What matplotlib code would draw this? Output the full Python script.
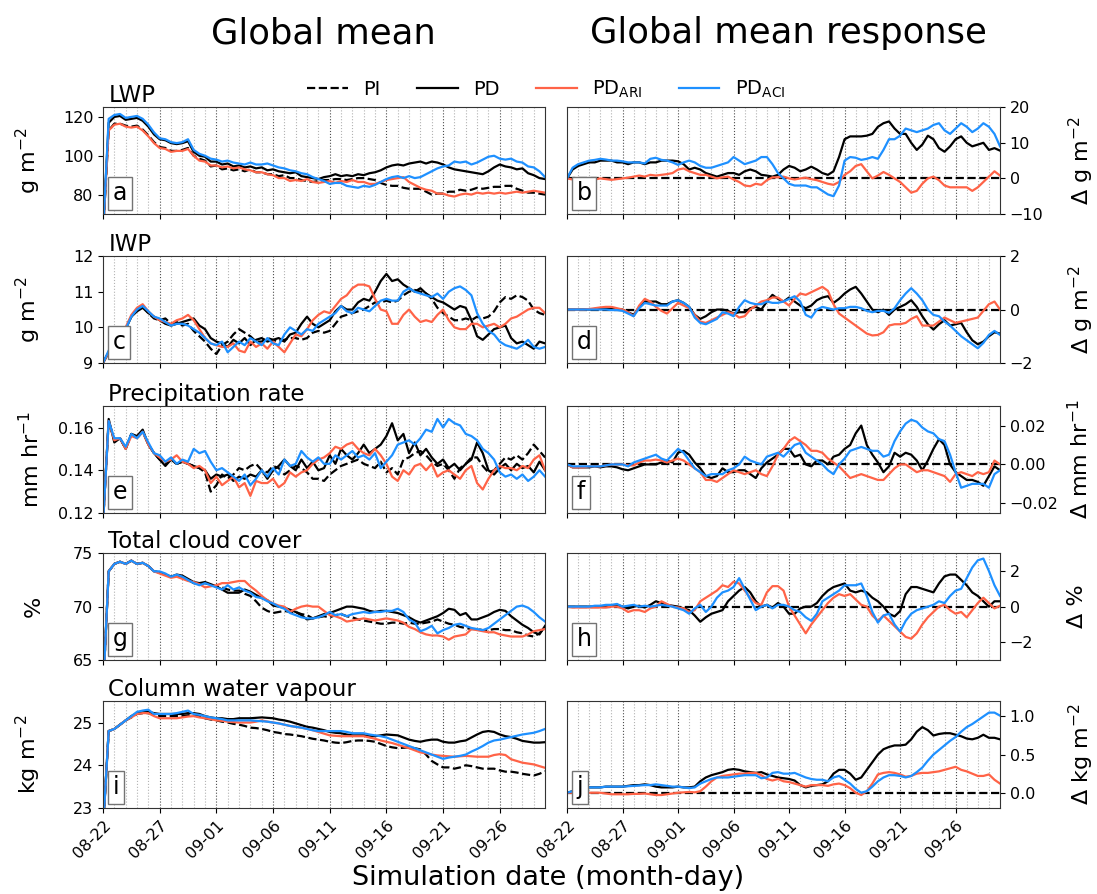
import numpy as np
import matplotlib
matplotlib.use('Agg')
import matplotlib.pyplot as plt
from matplotlib.lines import Line2D

# eje temporal: pasos de medio día desde 08-22 00:00
dias = np.linspace(0, 39, 79)
tick_dias = [0, 5, 10, 15, 20, 25, 30, 35]
tick_labels = ['08-22', '08-27', '09-01', '09-06', '09-11', '09-16', '09-21', '09-26']

# ---------------- LWP (g m-2) ----------------
lwp_pi = [60, 113, 116.5, 116.5, 115.5, 115, 115.5, 113.5, 110.5, 107,
          104.5, 104, 102.5, 102.5, 103, 104, 100, 98.5, 97.5, 94.5,
          95, 93, 93.5, 92.5, 93, 92, 93, 91.5, 91.5, 90.5,
          90.5, 89.5, 90, 88.5, 88.5, 87.5, 87, 86.5, 87, 87.5,
          87.5, 88, 88, 87.5, 88, 88.5, 88.5, 88, 87.5, 86,
          85, 84.5, 84.5, 83.5, 83, 83, 83, 81.5, 80, 80.5,
          80.5, 81.5, 81.5, 82.5, 82, 82.5, 83.5, 83, 83.5, 84,
          84, 84.5, 84.5, 83, 82, 81, 81, 80.5, 80]
lwp_pd = [60, 117, 120, 120.5, 118.5, 119, 119.5, 118, 115, 111,
          108.5, 108, 106.5, 106, 106.5, 107.5, 102, 100, 99.5, 97,
          97, 95.5, 96, 94.5, 95, 94, 94.5, 93.5, 94, 92.5,
          93, 92, 91.5, 91, 91.5, 89.5, 89, 88.5, 88, 89,
          89.5, 90.5, 89.5, 90, 89.5, 90.5, 90, 91, 91.5, 92.5,
          94, 95, 95.5, 95, 96, 96.5, 97, 96, 97, 96.5,
          95.5, 94, 93, 92.5, 92, 91.5, 91, 90.5, 92, 94,
          95.5, 94.5, 94, 93, 93.5, 91, 90, 88.5, 88]
lwp_ari = [60, 113, 116, 116.5, 115, 114.5, 115, 113, 110, 106.5,
           104, 103.5, 102, 102.5, 102.5, 103.5, 100, 97.5, 97, 95,
           95, 94, 94.5, 93.5, 94, 93, 92.5, 91.5, 91.5, 90.5,
           90, 88.5, 88.5, 87, 87.5, 87, 88, 86.5, 86, 86.5,
           87, 86, 87, 86.5, 87.5, 86.5, 86.5, 85.5, 85.5, 86.5,
           87.5, 88, 88.5, 89, 86.5, 85, 83.5, 82.5, 82, 80.5,
           80.5, 79.5, 79, 80, 80.5, 80, 81, 80.5, 81, 80.5,
           81, 80.5, 81, 81.5, 81, 81.5, 82, 81.5, 81]
lwp_aci = [60, 119, 121, 121.5, 119.5, 120, 120.5, 119, 116, 112,
           109, 108.5, 107, 106.5, 107, 108.5, 103, 101, 100, 98.5,
           98, 97, 97.5, 96.5, 96, 95.5, 96.5, 95.5, 95.5, 96,
           95, 94, 93.5, 92.5, 92, 91, 90.5, 89, 88, 87,
           85.5, 86, 86, 84.5, 84, 83.5, 84.5, 84, 85, 86.5,
           88, 89, 89.5, 88.5, 89.5, 88.5, 89, 90.5, 92, 93.5,
           94.5, 95, 97, 96.5, 97, 95.5, 96.5, 98, 99.5, 100,
           98.5, 98, 98.5, 97, 96.5, 94.5, 94, 92, 89]
dlwp_pd = [0, 2.5, 3.5, 4, 4.5, 4.5, 5, 5, 5, 4.5,
           4.5, 4, 4.5, 4.5, 4, 4.5, 4.5, 5, 5, 5,
           4.8, 4, 2.5, 3, 2.5, 1.5, 1, 0.5, 1, 1.5,
           1.5, 1, 2, 2.5, 2, 1, 0.8, 0.5, 1, 2.5,
           3.5, 3, 2, 2.5, 3.3, 2.5, 1.5, 1, 2, 6,
           11, 11.8, 11.8, 11.8, 12, 12.5, 14.5, 15.5, 16, 14,
           12.5, 12.5, 10, 8, 9.5, 12, 11, 8.5, 7.5, 9,
           11, 11.8, 10, 9, 9.5, 10, 8, 8.5, 7.8]
dlwp_ari = [0, -0.3, -0.5, -0.3, -0.2, -0.3, 0, -0.2, -0.4, -0.2,
            0, 0.2, 0.5, 0.8, 0.5, 1, 0.8, 1, 1.2, 1.5,
            2.5, 2.8, 2, 1.5, 1, 1, 0.5, 0, 0.3, 0.5,
            -0.3, -1, -2, -2.2, -1.5, -1.8, -0.5, 0.3, 0.3, 0.5,
            0, -0.3, 0, 0.2, -0.2, -0.5, -1, -1.5, -1.8, -1,
            1, 2, 3.5, 4, 2, 0, 0.8, 1.8, 1, 0,
            -1, -2.5, -4, -3.5, -1.5, 0, 0.5, -0.5, -2, -2.5,
            -2.5, -2.5, -2.5, -3.5, -2.5, -1, 0.5, 2, 0.8]
dlwp_aci = [0, 3, 4, 4.5, 5, 5.2, 5.5, 5.3, 5, 5,
            4.8, 4.5, 4.5, 4.5, 4.2, 5.5, 5.8, 5.2, 5, 4.5,
            3.8, 4.5, 5, 4.5, 3.5, 3, 3, 3.5, 4, 4.5,
            6, 5, 4, 4.5, 5, 6, 6, 4, 1.5, 0,
            -1.5, -2, -2, -2, -2.5, -2.5, -3.5, -4.5, -5, -2,
            5, 6, 5.8, 5.2, 5.5, 6, 5.5, 8, 11, 11,
            12, 14, 13.5, 13, 13.5, 14, 15, 15.5, 13.5, 12.5,
            14, 15.5, 14.5, 13, 14, 15.5, 14.5, 12.5, 9]

# ---------------- IWP (g m-2) ----------------
iwp_pi = [9.0, 9.3, 9.55, 9.75, 10.0, 10.3, 10.5, 10.6, 10.4, 10.25,
          10.2, 10.25, 10.1, 10.15, 10.05, 10.1, 9.9, 9.75, 9.6, 9.4,
          9.25, 9.5, 9.6, 9.8, 9.95, 9.85, 9.75, 9.6, 9.6, 9.7,
          9.65, 9.6, 9.65, 9.7, 9.7, 9.65, 9.7, 9.85, 9.9, 9.85,
          9.9, 10.1, 10.3, 10.35, 10.4, 10.45, 10.5, 10.6, 10.7, 10.7,
          10.75, 10.7, 10.75, 10.9, 11.0, 11.05, 11.0, 10.95, 10.8, 10.55,
          10.4, 10.3, 10.2, 10.2, 10.25, 10.2, 10.3, 10.25, 10.3, 10.45,
          10.7, 10.85, 10.8, 10.9, 10.85, 10.75, 10.5, 10.4, 10.35]
iwp_pd = [9.0, 9.3, 9.5, 9.7, 9.95, 10.3, 10.45, 10.55, 10.4, 10.3,
          10.2, 10.1, 10.05, 10.1, 10.15, 10.2, 10.25, 10.05, 9.95, 9.7,
          9.6, 9.55, 9.45, 9.65, 9.55, 9.7, 9.5, 9.65, 9.7, 9.6,
          9.65, 9.7, 9.6, 9.8, 9.85, 10.1, 10.3, 10.1, 10.0, 10.1,
          10.2, 10.45, 10.6, 10.5, 10.5, 10.7, 10.8, 10.75, 11.0, 11.3,
          11.5, 11.3, 11.35, 11.2, 11.1, 11.0, 11.1, 10.95, 10.85, 10.75,
          10.7, 10.6, 10.5, 10.6, 10.55, 10.2, 9.75, 9.65, 9.8, 9.95,
          10.0, 10.05, 9.7, 9.55, 9.6, 9.5, 9.4, 9.6, 9.55]
iwp_ari = [9.0, 9.3, 9.55, 9.75, 10.0, 10.35, 10.55, 10.65, 10.45, 10.3,
           10.2, 10.15, 10.1, 10.2, 10.25, 10.35, 10.2, 9.95, 9.7, 9.55,
           9.5, 9.45, 9.45, 9.55, 9.35, 9.3, 9.6, 9.45, 9.55, 9.4,
           9.6, 9.45, 9.3, 9.55, 9.8, 9.75, 9.95, 10.2, 10.35, 10.45,
           10.4, 10.6, 10.8, 10.9, 11.1, 11.2, 11.2, 11.15, 10.8, 10.5,
           10.45, 10.1, 10.1, 10.35, 10.5, 10.3, 10.15, 10.2, 10.15, 10.35,
           10.5, 10.2, 10.0, 9.95, 9.95, 10.1, 10.1, 10.0, 10.05, 10.1,
           10.0, 10.1, 10.25, 10.3, 10.4, 10.5, 10.55, 10.55, 10.4]
iwp_aci = [9.0, 9.35, 9.55, 9.7, 9.95, 10.3, 10.5, 10.6, 10.45, 10.3,
           10.25, 10.15, 10.05, 10.1, 10.1, 10.05, 9.95, 9.85, 9.7, 9.55,
           9.5, 9.6, 9.3, 9.45, 9.6, 9.5, 9.7, 9.6, 9.5, 9.7,
           9.55, 9.5, 9.8, 10.0, 9.9, 9.8, 9.95, 9.9, 10.1, 10.2,
           10.3, 10.4, 10.6, 10.45, 10.4, 10.55, 10.5, 10.45, 10.6, 10.75,
           10.8, 10.75, 10.75, 11.0, 11.1, 11.0, 10.95, 10.9, 10.85, 10.95,
           10.8, 11.0, 11.1, 11.15, 11.05, 10.9, 10.4, 10.1, 9.9, 9.8,
           9.6, 9.5, 9.45, 9.4, 9.5, 9.65, 9.45, 9.4, 9.45]
diwp_pd = [0, 0, 0, 0, 0, 0.02, 0.02, 0.02, 0.02, 0,
           0, -0.1, -0.2, 0.1, 0.3, 0.3, 0.3, 0.2, 0.2, 0.3,
           0.35, 0.25, 0.1, -0.2, -0.35, -0.25, -0.1, 0, 0, -0.05,
           -0.15, -0.1, -0.1, 0.05, 0.1, 0, 0.3, 0.55, 0.4, 0.3,
           0.45, 0.3, 0.15, 0.05, 0.15, 0.35, 0.45, 0.5, 0.25, 0.4,
           0.6, 0.75, 0.85, 0.6, 0.3, 0, -0.1, 0, -0.2, 0,
           0.1, 0.2, 0.35, 0.1, -0.25, -0.55, -0.75, -0.55, -0.4, -0.6,
           -0.55, -0.5, -0.85, -1.15, -1.3, -1.2, -1.0, -0.85, -0.9]
diwp_ari = [0, 0, 0, 0, 0.02, 0.05, 0.08, 0.1, 0.1, 0.05,
            0, -0.1, -0.25, 0.15, 0.4, 0.3, 0.1, -0.05, -0.15, 0.05,
            0.25, 0.15, 0.05, -0.2, -0.45, -0.5, -0.4, -0.3, -0.2, -0.1,
            -0.15, -0.3, -0.25, 0, 0.15, 0.3, 0.35, 0.45, 0.45, 0.3,
            0.15, 0.4, 0.6, 0.55, 0.65, 0.75, 0.85, 0.7, 0.2, -0.15,
            -0.3, -0.45, -0.6, -0.75, -0.9, -0.97, -0.95, -0.85, -0.6, -0.55,
            -0.55, -0.5, -0.35, -0.25, -0.6, -0.6, -0.6, -0.45, -0.3, -0.4,
            -0.5, -0.45, -0.4, -0.35, -0.3, -0.05, 0.2, 0.3, 0.0]
diwp_aci = [0, 0, 0, 0, 0, 0, 0, 0, -0.02, -0.02,
            -0.05, -0.15, -0.25, 0.05, 0.25, 0.2, 0.15, 0.15, 0.15, 0.3,
            0.35, 0.25, 0.1, -0.3, -0.5, -0.55, -0.45, -0.35, -0.1, -0.15,
            -0.25, 0.1, 0.35, 0.25, 0.2, 0.2, 0.3, 0.25, 0.25, 0.3,
            0.4, 0.5, 0.3, -0.2, -0.3, 0, 0.1, 0.05, 0, 0.05,
            0.05, 0.1, 0.1, 0.05, -0.05, -0.1, -0.05, -0.05, -0.12, 0.05,
            0.35, 0.6, 0.8, 0.6, 0.35, 0, -0.2, -0.25, -0.45, -0.6,
            -0.8, -1.0, -1.15, -1.3, -1.45, -1.25, -0.95, -0.8, -0.95]

# ---------------- Precipitación (mm hr-1) ----------------
pr_pi = [0.115, 0.163, 0.154, 0.155, 0.150, 0.157, 0.155, 0.158, 0.152, 0.148,
         0.145, 0.143, 0.145, 0.143, 0.144, 0.143, 0.142, 0.141, 0.139, 0.130,
         0.133, 0.138, 0.136, 0.138, 0.141, 0.140, 0.142, 0.143, 0.140, 0.139,
         0.142, 0.141, 0.138, 0.140, 0.142, 0.141, 0.139, 0.136, 0.136, 0.135,
         0.138, 0.140, 0.142, 0.143, 0.144, 0.145, 0.143, 0.142, 0.141, 0.144,
         0.139, 0.141, 0.138, 0.145, 0.146, 0.148, 0.149, 0.147, 0.144, 0.142,
         0.143, 0.140, 0.136, 0.141, 0.143, 0.146, 0.146, 0.142, 0.139, 0.140,
         0.143, 0.146, 0.145, 0.147, 0.145, 0.148, 0.152, 0.149, 0.146]
pr_pd = [0.115, 0.164, 0.153, 0.155, 0.150, 0.157, 0.156, 0.159, 0.152, 0.148,
         0.145, 0.142, 0.145, 0.143, 0.144, 0.143, 0.142, 0.141, 0.140, 0.136,
         0.138, 0.137, 0.138, 0.135, 0.137, 0.136, 0.138, 0.137, 0.140, 0.136,
         0.140, 0.142, 0.145, 0.142, 0.140, 0.145, 0.141, 0.144, 0.140, 0.141,
         0.147, 0.143, 0.150, 0.147, 0.145, 0.148, 0.152, 0.148, 0.150, 0.152,
         0.156, 0.162, 0.154, 0.157, 0.148, 0.153, 0.147, 0.150, 0.146, 0.143,
         0.145, 0.141, 0.143, 0.140, 0.143, 0.145, 0.153, 0.148, 0.140, 0.138,
         0.141, 0.143, 0.140, 0.143, 0.141, 0.142, 0.139, 0.144, 0.140]
pr_ari = [0.115, 0.163, 0.154, 0.155, 0.150, 0.156, 0.155, 0.158, 0.152, 0.148,
          0.146, 0.144, 0.145, 0.147, 0.144, 0.143, 0.141, 0.142, 0.140, 0.134,
          0.137, 0.133, 0.135, 0.137, 0.132, 0.134, 0.128, 0.135, 0.134, 0.134,
          0.136, 0.132, 0.134, 0.139, 0.137, 0.139, 0.140, 0.143, 0.145, 0.146,
          0.148, 0.151, 0.150, 0.152, 0.153, 0.150, 0.148, 0.147, 0.150, 0.147,
          0.143, 0.137, 0.135, 0.140, 0.138, 0.142, 0.143, 0.140, 0.143, 0.137,
          0.139, 0.140, 0.138, 0.136, 0.140, 0.142, 0.134, 0.131, 0.136, 0.140,
          0.142, 0.141, 0.141, 0.140, 0.142, 0.141, 0.145, 0.147, 0.140]
pr_aci = [0.115, 0.163, 0.155, 0.155, 0.151, 0.157, 0.155, 0.158, 0.153, 0.148,
          0.147, 0.144, 0.146, 0.143, 0.145, 0.144, 0.150, 0.148, 0.149, 0.144,
          0.140, 0.141, 0.139, 0.137, 0.135, 0.138, 0.133, 0.136, 0.140, 0.137,
          0.141, 0.138, 0.145, 0.142, 0.143, 0.149, 0.146, 0.144, 0.146, 0.143,
          0.143, 0.147, 0.145, 0.147, 0.149, 0.146, 0.147, 0.145, 0.148, 0.141,
          0.144, 0.147, 0.152, 0.153, 0.154, 0.152, 0.155, 0.159, 0.158, 0.164,
          0.160, 0.164, 0.162, 0.161, 0.157, 0.156, 0.154, 0.150, 0.148, 0.145,
          0.139, 0.137, 0.138, 0.136, 0.138, 0.135, 0.137, 0.140, 0.137]
dpr_pd = [0, -0.0015, -0.0015, -0.0015, -0.0015, -0.001, -0.0015, -0.001, -0.001, -0.0015,
          -0.0025, -0.003, -0.002, -0.001, 0, 0, 0, 0.001, 0.002, 0.001,
          0.006, 0.007, 0.005, 0.001, -0.002, -0.006, -0.007, -0.006, -0.002, -0.004,
          -0.004, -0.003, -0.003, -0.005, -0.007, -0.002, 0.001, 0.003, 0.005, 0.008,
          0.008, 0.004, 0.005, 0, -0.001, 0.002, 0.002, 0, 0.004, 0.005,
          0.008, 0.010, 0.016, 0.020, 0.010, 0.005, 0.001, -0.004, -0.001, 0.006,
          0.004, 0.006, 0.005, 0.002, -0.003, 0.002, 0.008, 0.013, 0.010, 0.000,
          -0.004, -0.006, -0.008, -0.008, -0.009, -0.011, -0.006, -0.001, -0.003]
dpr_ari = [0, -0.0015, -0.0015, -0.0015, -0.001, -0.001, -0.001, -0.0005, 0, 0,
           0, -0.0005, -0.0005, 0.001, 0.002, 0.002, 0.0025, 0.002, 0.001, 0.002,
           0.003, 0.002, 0, -0.002, -0.004, -0.008, -0.008, -0.009, -0.007, -0.005,
           -0.003, -0.004, -0.005, -0.004, -0.003, -0.005, -0.006, -0.001, 0.005, 0.008,
           0.012, 0.014, 0.012, 0.010, 0.007, 0.007, 0.006, 0.003, 0.001, -0.001,
           -0.004, -0.007, -0.006, -0.005, -0.006, -0.007, -0.008, -0.008, -0.005, -0.002,
           0, 0, -0.002, -0.004, -0.003, -0.003, -0.004, -0.005, -0.006, -0.009,
           -0.005, -0.004, -0.005, -0.006, -0.004, -0.005, -0.004, 0.002, 0]
dpr_aci = [0, -0.001, -0.001, -0.001, -0.001, -0.001, -0.001, -0.0005, 0, 0,
           0, -0.001, 0.001, 0.002, 0.003, 0.004, 0.005, 0.003, 0.002, 0.005,
           0.008, 0.006, 0.002, -0.002, -0.004, -0.006, -0.005, -0.005, -0.005, -0.003,
           -0.002, 0, 0.004, 0.002, 0.001, 0, 0.004, 0.005, 0.006, 0.004,
           0.007, 0.010, 0.011, 0.006, 0.004, 0.002, 0, -0.003, -0.005, 0,
           0.003, 0.007, 0.008, 0.009, 0.008, 0.007, 0.007, 0.004, 0.005, 0.012,
           0.017, 0.021, 0.023, 0.022, 0.019, 0.017, 0.016, 0.013, 0.012, 0.005,
           -0.004, -0.012, -0.011, -0.010, -0.010, -0.010, -0.012, -0.005, -0.003]

# ---------------- Nubosidad total (%) ----------------
cc_pi = [62, 73.3, 74.0, 74.2, 74.0, 74.3, 74.0, 74.1, 73.8, 73.3,
         73.2, 73.0, 72.8, 72.9, 72.8, 72.5, 72.2, 72.1, 72.2, 72.0,
         71.9, 71.8, 71.6, 71.5, 71.5, 71.2, 71.0, 70.5, 69.9, 69.6,
         69.4, 69.5, 69.6, 69.5, 69.5, 69.3, 69.2, 68.9, 69.0, 69.1,
         69.0, 69.2, 69.3, 69.1, 69.0, 68.8, 68.7, 68.6, 68.5, 68.4,
         68.4, 68.5, 68.5, 68.4, 68.5, 68.4, 68.4, 68.5, 68.6, 68.8,
         68.6, 68.4, 68.3, 68.1, 68.0, 67.9, 67.9, 67.8, 67.8, 67.9,
         67.9, 67.8, 67.8, 67.6, 67.5, 67.3, 67.2, 67.5, 68.1]
cc_pd = [62, 73.3, 74.0, 74.2, 74.0, 74.3, 74.0, 74.1, 73.8, 73.3,
         73.2, 73.0, 72.8, 73.0, 72.9, 72.6, 72.3, 72.2, 72.3, 72.1,
         71.9, 71.6, 71.3, 71.3, 71.3, 71.6, 71.4, 71.1, 70.8, 70.6,
         70.1, 70.0, 69.9, 69.7, 69.5, 69.2, 68.8, 68.9, 69.1, 69.3,
         69.4, 69.6, 69.8, 70.0, 70.0, 69.9, 69.8, 69.6, 69.5, 69.6,
         69.6, 69.5, 69.4, 69.2, 69.0, 68.7, 68.5, 68.7, 68.9, 69.1,
         69.4, 69.8, 69.7, 69.2, 69.4, 68.8, 68.8, 69.0, 69.2, 69.5,
         69.7, 69.6, 69.1, 68.7, 68.3, 68.0, 67.6, 67.4, 68.2]
cc_ari = [62, 73.3, 74.0, 74.2, 74.0, 74.3, 74.0, 74.1, 73.8, 73.3,
          73.1, 72.9, 72.7, 72.8, 72.6, 72.4, 72.3, 72.1, 71.8, 71.9,
          72.0, 72.2, 72.2, 72.3, 72.4, 72.4, 71.9, 71.5, 71.0, 70.6,
          70.3, 70.1, 70.0, 69.5, 69.8, 70.0, 70.1, 70.0, 70.0, 69.6,
          69.2, 69.1, 68.9, 68.6, 68.7, 68.8, 68.9, 68.8, 68.7, 68.8,
          68.9, 68.8, 68.7, 68.5, 68.1, 67.9, 67.6, 67.4, 67.3, 67.3,
          67.2, 66.9, 67.2, 67.3, 67.4, 67.9, 67.8, 67.7, 67.6, 67.6,
          67.4, 67.3, 67.2, 67.2, 67.2, 67.4, 67.7, 67.8, 67.9]
cc_aci = [62, 73.3, 74.0, 74.2, 74.0, 74.3, 74.0, 74.1, 73.8, 73.3,
          73.3, 73.1, 72.8, 73.0, 72.8, 72.5, 72.2, 72.0, 72.2, 72.0,
          71.8, 71.6, 72.0, 71.6, 71.8, 71.5, 71.3, 70.9, 70.8, 70.5,
          70.3, 70.0, 69.8, 69.4, 69.2, 69.0, 68.9, 68.9, 69.0, 69.2,
          69.5, 69.2, 69.3, 69.1, 69.3, 69.4, 69.5, 69.4, 69.5, 69.5,
          69.6, 69.6, 69.8, 69.5, 68.8, 68.5, 67.7, 67.9, 68.2, 67.5,
          67.8, 68.0, 68.3, 68.4, 68.2, 68.0, 67.9, 67.8, 68.0, 68.4,
          68.8, 69.2, 69.6, 70.0, 70.1, 69.9, 69.5, 69.0, 68.6]
dcc_pd = [0, 0, 0, 0, 0, 0, 0, 0.05, 0.05, 0.1,
          0, -0.1, 0, 0.05, -0.05, 0.1, 0.3, 0.2, 0.1, 0.05,
          0, -0.1, -0.2, -0.5, -0.85, -0.6, -0.4, -0.3, -0.2, 0.3,
          0.6, 0.9, 1.1, 0.8, 0.3, 0, 0.1, -0.05, 0.2, 0,
          -0.4, -0.4, -0.1, 0, 0, 0.2, 0.6, 0.9, 1.1, 1.2,
          1.3, 0.9, 0.8, 0.9, 0.8, 0.5, 0.3, 0, -0.4, -0.55,
          -0.25, 0.7, 1.1, 1.1, 1.0, 0.9, 0.8, 1.3, 1.7, 1.8,
          1.8, 1.5, 1.2, 0.8, 0.6, 0.3, 0, 0.3, 0.3]
dcc_ari = [0, -0.05, -0.05, -0.05, -0.05, -0.05, -0.05, -0.05, 0, 0,
           -0.1, -0.3, -0.2, -0.2, -0.3, -0.1, 0, 0.3, 0.15, 0,
           -0.05, -0.1, -0.3, -0.2, 0.3, 0.5, 0.7, 0.9, 1.2, 1.1,
           1.4, 1.3, 0.9, 0.5, 0.2, 0.1, 0.8, 1.15, 1.15, 0.9,
           0, -0.5, -1.0, -1.5, -1.0, -0.6, -0.2, 0.2, 0.5, 0.7,
           0.6, 0.7, 0.4, 0.1, 0, -0.5, -0.8, -0.5, -0.8, -1.1,
           -1.4, -1.7, -1.8, -1.5, -1.0, -0.6, -0.3, 0, 0.1, -0.2,
           -0.4, -0.3, -0.6, -0.2, 0.2, 0.5, 0.2, -0.1, 0.05]
dcc_aci = [0, 0, 0, 0, 0, 0.05, 0.05, 0.1, 0.1, 0.15,
           0, 0.05, 0.1, 0, 0.05, 0, 0.05, 0.1, 0.05, 0,
           -0.1, -0.2, -0.4, -0.1, 0.1, -0.3, 0, 0.5, 0.8, 0.9,
           1.1, 1.6, 1.0, 0.4, -0.2, 0, 0.1, -0.1, 0.1, 0.1,
           0, -0.2, -0.3, -0.6, -0.8, -0.4, 0.3, 0.5, 0.7, 0.9,
           1.2, 1.2, 1.2, 1.3, 0.6, -0.3, -0.9, -0.5, -0.4, -1.0,
           -1.4, -0.8, -0.4, -0.2, -0.1, 0, 0.1, 0.3, 0.2, 0.6,
           0.9, 1.0, 1.6, 2.2, 2.6, 2.7, 2.0, 1.2, 0.6]

# ---------------- Vapor de agua en columna (kg m-2) ----------------
cwv_pi = [22.5, 24.8, 24.85, 24.95, 25.05, 25.12, 25.2, 25.22, 25.22, 25.18,
          25.15, 25.15, 25.15, 25.15, 25.15, 25.17, 25.18, 25.15, 25.1, 25.07,
          25.05, 25.02, 25.0, 24.97, 24.95, 24.92, 24.88, 24.87, 24.85, 24.82,
          24.78, 24.76, 24.73, 24.72, 24.7, 24.68, 24.65, 24.62, 24.6, 24.58,
          24.55, 24.53, 24.52, 24.54, 24.57, 24.58, 24.58, 24.57, 24.55, 24.5,
          24.45, 24.42, 24.4, 24.41, 24.42, 24.4, 24.37, 24.25, 24.1, 24.02,
          23.95, 23.95, 23.92, 23.95, 24.0, 23.98, 23.95, 23.92, 23.92, 23.92,
          23.88, 23.85, 23.85, 23.83, 23.8, 23.78, 23.76, 23.8, 23.86]
cwv_pd = [22.5, 24.8, 24.85, 24.95, 25.05, 25.15, 25.22, 25.24, 25.25, 25.22,
          25.2, 25.2, 25.2, 25.2, 25.2, 25.22, 25.22, 25.2, 25.15, 25.12,
          25.1, 25.1, 25.08, 25.08, 25.1, 25.1, 25.1, 25.11, 25.12, 25.11,
          25.1, 25.07, 25.05, 25.02, 24.98, 24.94, 24.9, 24.88, 24.85, 24.82,
          24.78, 24.76, 24.75, 24.72, 24.7, 24.7, 24.7, 24.69, 24.68, 24.7,
          24.72, 24.71, 24.7, 24.65, 24.6, 24.57, 24.55, 24.58, 24.6, 24.6,
          24.55, 24.53, 24.53, 24.56, 24.58, 24.65, 24.72, 24.78, 24.8, 24.78,
          24.72, 24.68, 24.66, 24.62, 24.57, 24.55, 24.53, 24.53, 24.54]
cwv_ari = [22.5, 24.8, 24.85, 24.95, 25.05, 25.12, 25.2, 25.22, 25.22, 25.15,
           25.1, 25.1, 25.1, 25.1, 25.12, 25.14, 25.15, 25.12, 25.1, 25.08,
           25.05, 25.04, 25.02, 25.01, 25.0, 25.0, 25.0, 25.02, 25.05, 25.02,
           25.0, 24.98, 24.95, 24.92, 24.9, 24.88, 24.85, 24.82, 24.78, 24.74,
           24.7, 24.69, 24.68, 24.68, 24.68, 24.68, 24.68, 24.65, 24.62, 24.58,
           24.55, 24.52, 24.48, 24.44, 24.4, 24.35, 24.3, 24.28, 24.25, 24.23,
           24.22, 24.21, 24.2, 24.21, 24.22, 24.21, 24.2, 24.2, 24.2, 24.24,
           24.26, 24.24, 24.14, 24.1, 24.06, 24.04, 24.02, 23.98, 23.94]
cwv_aci = [22.5, 24.8, 24.85, 24.95, 25.05, 25.15, 25.25, 25.28, 25.3, 25.2,
           25.2, 25.2, 25.2, 25.22, 25.25, 25.28, 25.2, 25.18, 25.15, 25.12,
           25.1, 25.08, 25.05, 25.05, 25.05, 25.05, 25.05, 25.04, 25.03, 25.02,
           25.0, 24.98, 24.95, 24.92, 24.9, 24.88, 24.85, 24.82, 24.8, 24.8,
           24.8, 24.8, 24.8, 24.78, 24.75, 24.75, 24.75, 24.72, 24.7, 24.68,
           24.65, 24.6, 24.55, 24.5, 24.45, 24.4, 24.35, 24.3, 24.25, 24.2,
           24.15, 24.18, 24.2, 24.22, 24.25, 24.32, 24.38, 24.45, 24.53, 24.58,
           24.6, 24.63, 24.66, 24.69, 24.72, 24.74, 24.76, 24.8, 24.85]
dcwv_pd = [0, 0.02, 0.05, 0.06, 0.07, 0.07, 0.07, 0.08, 0.08, 0.08,
           0.08, 0.09, 0.1, 0.1, 0.11, 0.1, 0.08, 0.07, 0.07, 0.07,
           0.08, 0.07, 0.07, 0.08, 0.15, 0.2, 0.23, 0.25, 0.27, 0.3,
           0.31, 0.3, 0.28, 0.27, 0.26, 0.27, 0.24, 0.22, 0.2, 0.19,
           0.18, 0.16, 0.1, 0.07, 0.09, 0.1, 0.11, 0.15, 0.25, 0.3,
           0.3, 0.25, 0.17, 0.2, 0.3, 0.4, 0.5, 0.57, 0.6, 0.62,
           0.62, 0.63, 0.7, 0.8, 0.86, 0.82, 0.75, 0.77, 0.78, 0.78,
           0.76, 0.74, 0.71, 0.7, 0.72, 0.76, 0.72, 0.72, 0.7]
dcwv_ari = [0, 0, 0, 0, 0, 0, 0, -0.01, -0.02, -0.02,
            -0.02, -0.02, -0.015, -0.015, -0.01, -0.02, -0.03, -0.03, -0.02, -0.01,
            0, 0.005, 0.01, 0.005, 0.02, 0.08, 0.15, 0.2, 0.22, 0.23,
            0.24, 0.25, 0.25, 0.26, 0.26, 0.23, 0.18, 0.16, 0.18, 0.15,
            0.14, 0.12, 0.1, 0.08, 0.1, 0.1, 0.1, 0.09, 0.11, 0.12,
            0.1, 0.06, 0.0, -0.03, 0.02, 0.12, 0.24, 0.26, 0.27, 0.26,
            0.24, 0.21, 0.22, 0.25, 0.26, 0.26, 0.27, 0.28, 0.3, 0.32,
            0.34, 0.3, 0.28, 0.25, 0.22, 0.22, 0.24, 0.17, 0.12]
dcwv_aci = [0, 0.02, 0.05, 0.06, 0.07, 0.07, 0.07, 0.08, 0.08, 0.08,
            0.08, 0.085, 0.09, 0.095, 0.1, 0.1, 0.11, 0.1, 0.09, 0.08,
            0.08, 0.07, 0.06, 0.07, 0.12, 0.15, 0.18, 0.2, 0.2, 0.2,
            0.21, 0.22, 0.23, 0.23, 0.23, 0.19, 0.2, 0.26, 0.27, 0.25,
            0.25, 0.26, 0.23, 0.2, 0.18, 0.17, 0.17, 0.15, 0.2, 0.22,
            0.17, 0.12, 0.05, 0.0, 0.02, 0.08, 0.15, 0.2, 0.23, 0.23,
            0.22, 0.2, 0.22, 0.27, 0.33, 0.42, 0.5, 0.56, 0.62, 0.68,
            0.73, 0.8, 0.86, 0.9, 0.95, 1.0, 1.05, 1.05, 1.01]

COL_ARI = 'tomato'
COL_ACI = 'dodgerblue'
LW = 1.6

paneles = [
    dict(titulo='LWP', unidad='g m$^{-2}$', serie=(lwp_pi, lwp_pd, lwp_ari, lwp_aci),
         dif=(dlwp_pd, dlwp_ari, dlwp_aci), ylim=(70, 125), yt=[80, 100, 120],
         dylim=(-10, 20), dyt=[-10, 0, 10, 20], letras='ab'),
    dict(titulo='IWP', unidad='g m$^{-2}$', serie=(iwp_pi, iwp_pd, iwp_ari, iwp_aci),
         dif=(diwp_pd, diwp_ari, diwp_aci), ylim=(9, 12), yt=[9, 10, 11, 12],
         dylim=(-2, 2), dyt=[-2, 0, 2], letras='cd'),
    dict(titulo='Precipitation rate', unidad='mm hr$^{-1}$', serie=(pr_pi, pr_pd, pr_ari, pr_aci),
         dif=(dpr_pd, dpr_ari, dpr_aci), ylim=(0.12, 0.17), yt=[0.12, 0.14, 0.16],
         dylim=(-0.025, 0.03), dyt=[-0.02, 0.0, 0.02], letras='ef'),
    dict(titulo='Total cloud cover', unidad='%', serie=(cc_pi, cc_pd, cc_ari, cc_aci),
         dif=(dcc_pd, dcc_ari, dcc_aci), ylim=(65, 75), yt=[65, 70, 75],
         dylim=(-3, 3), dyt=[-2, 0, 2], letras='gh'),
    dict(titulo='Column water vapour', unidad='kg m$^{-2}$', serie=(cwv_pi, cwv_pd, cwv_ari, cwv_aci),
         dif=(dcwv_pd, dcwv_ari, dcwv_aci), ylim=(23, 25.5), yt=[23, 24, 25],
         dylim=(-0.2, 1.2), dyt=[0.0, 0.5, 1.0], letras='ij'),
]

fig = plt.figure(figsize=(10.97, 8.94), dpi=100)

bottoms = [0.7606, 0.5940, 0.4262, 0.2617, 0.0962]
alto = 0.1195


def formato_eje(ax, letra, ultima):
    for d in range(1, 39):
        color = '0.3' if d % 5 == 0 else '0.7'
        ax.axvline(d, color=color, ls=':', lw=0.8, zorder=0)
    ax.set_xlim(0, 39)
    ax.set_xticks(tick_dias)
    if ultima:
        ax.set_xticklabels(tick_labels, rotation=45, ha='right', rotation_mode='anchor', fontsize=11.5)
    else:
        ax.set_xticklabels([])
    ax.tick_params(axis='y', labelsize=11.5)
    for sp in ax.spines.values():
        sp.set_color('0.2')
    ax.text(0.022, 0.08, letra, transform=ax.transAxes, fontsize=17, ha='left', va='bottom',
            bbox=dict(facecolor='white', edgecolor='0.45', boxstyle='square,pad=0.2'), zorder=10)


for i, p in enumerate(paneles):
    ultima = i == len(paneles) - 1
    ax = fig.add_axes([0.0939, bottoms[i], 0.403, alto])
    pi, pd_, ari, aci = p['serie']
    ax.plot(dias, pi, color='black', ls='--', lw=LW)
    ax.plot(dias, pd_, color='black', lw=LW)
    ax.plot(dias, ari, color=COL_ARI, lw=LW)
    ax.plot(dias, aci, color=COL_ACI, lw=LW)
    ax.set_ylim(p['ylim'])
    ax.set_yticks(p['yt'])
    ax.set_title(p['titulo'], loc='left', fontsize=16.5, pad=4, x=0.012)
    ax.set_ylabel(p['unidad'], fontsize=16)
    ax.yaxis.set_label_coords(-0.135, 0.5)
    formato_eje(ax, p['letras'][0], ultima)

    axr = fig.add_axes([0.5169, bottoms[i], 0.3947, alto])
    axr.axhline(0, color='black', ls='--', lw=LW)
    dpd, dari, daci = p['dif']
    axr.plot(dias, dpd, color='black', lw=LW)
    axr.plot(dias, dari, color=COL_ARI, lw=LW)
    axr.plot(dias, daci, color=COL_ACI, lw=LW)
    axr.set_ylim(p['dylim'])
    axr.set_yticks(p['dyt'])
    if i == 2:
        axr.set_yticklabels(['\u22120.02', '0.00', '0.02'])
    axr.yaxis.tick_right()
    axr.yaxis.set_label_position('right')
    axr.set_ylabel('\u0394 ' + p['unidad'], fontsize=16)
    axr.yaxis.set_label_coords(1.155, 0.5)
    formato_eje(axr, p['letras'][1], ultima)

fig.text(0.295, 0.963, 'Global mean', fontsize=25.5, ha='center', va='center')
fig.text(0.719, 0.963, 'Global mean response', fontsize=25.5, ha='center', va='center')
fig.text(0.5, 0.018, 'Simulation date (month-day)', fontsize=19.5, ha='center', va='center')

handles = [Line2D([], [], color='black', ls='--', lw=LW),
           Line2D([], [], color='black', lw=LW),
           Line2D([], [], color=COL_ARI, lw=LW),
           Line2D([], [], color=COL_ACI, lw=LW)]
labels = ['PI', 'PD', 'PD$_{\\mathrm{ARI}}$', 'PD$_{\\mathrm{ACI}}$']
fig.legend(handles, labels, loc='center', bbox_to_anchor=(0.498, 0.900), ncol=4,
           frameon=False, fontsize=14, handlelength=2.1, columnspacing=1.85)

fig.savefig('out.png', dpi=100)
